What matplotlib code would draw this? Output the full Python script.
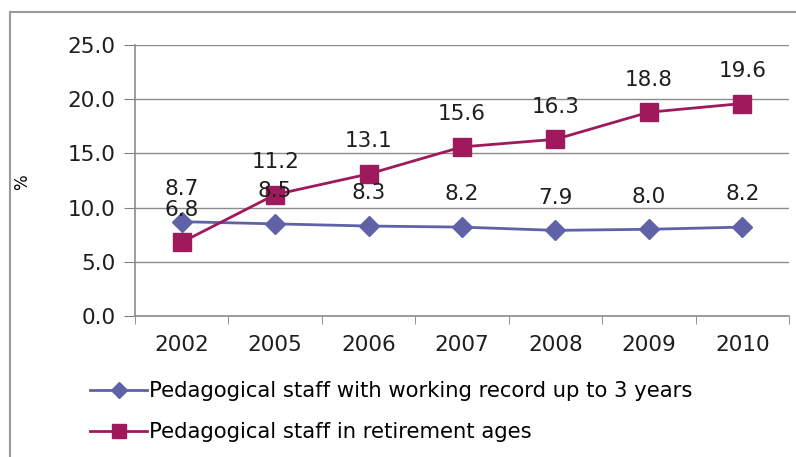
import numpy as np
import matplotlib.pyplot as plt
from matplotlib.patches import Rectangle

# data
years = ['2002', '2005', '2006', '2007', '2008', '2009', '2010']
young_staff = [8.7, 8.5, 8.3, 8.2, 7.9, 8.0, 8.2]
retired_staff = [6.8, 11.2, 13.1, 15.6, 16.3, 18.8, 19.6]
labels = ['Pedagogical staff with working record up to 3 years',
          'Pedagogical staff in retirement ages']

plt.rcParams['font.family'] = 'DejaVu Sans'

fig = plt.figure(figsize=(7.96, 4.57), dpi=100)
ax = fig.add_axes([135 / 796, 1 - 316 / 457, (789 - 135) / 796, (316 - 45) / 457])

# outer chart border
fig.patches.append(Rectangle((10 / 796, -0.1), 1.2, 1 - 12 / 457 + 0.1,
                             transform=fig.transFigure, fill=False,
                             edgecolor='#9a9a9a', linewidth=1.5))

x = np.arange(len(years))
blue = '#6062a8'
red = '#9e1a5c'
l1, = ax.plot(x, young_staff, color=blue, lw=2, marker='D', ms=10, label=labels[0])
l2, = ax.plot(x, retired_staff, color=red, lw=2, marker='s', ms=13, label=labels[1])

for series in (young_staff, retired_staff):
    for xi, v in zip(x, series):
        ax.annotate(f'{v:.1f}', (xi, v), xytext=(0, 23.5), textcoords='offset points',
                    ha='center', va='center', fontsize=15.5, color='#1e1e1e')

ax.set_xlim(-0.5, len(years) - 0.5)
ax.set_ylim(0, 25)
ax.set_yticks(np.arange(0, 25.1, 5))
ax.set_yticklabels([f'{v:.1f}' for v in np.arange(0, 25.1, 5)])
ax.set_xticks(x)
ax.set_xticklabels(years)
ax.set_xticks(np.arange(-0.5, len(years)), minor=True)
ax.tick_params(axis='x', which='major', length=0, pad=14, labelsize=15.5, labelcolor='#1e1e1e')
ax.tick_params(axis='x', which='minor', length=6, color='#808080', direction='out')
ax.tick_params(axis='y', length=8, color='#808080', pad=6, labelsize=15.5, labelcolor='#1e1e1e')
ax.grid(axis='y', color='#8c8c8c', lw=1)
ax.set_axisbelow(True)
for s in ['top', 'right']:
    ax.spines[s].set_visible(False)
for s in ['left', 'bottom']:
    ax.spines[s].set_color('#8c8c8c')
    ax.spines[s].set_linewidth(1.2)

fig.text(22 / 796, 1 - 182 / 457, '%', rotation=90, ha='center', va='center', fontsize=12)

fig.legend(handles=[l1, l2], loc='upper left', bbox_to_anchor=(90 / 796, 1 - 381 / 457),
           frameon=False, fontsize=15.2, handlelength=2.7, handletextpad=0.1,
           labelspacing=1.0, borderaxespad=0, borderpad=0, markerscale=0.8)

fig.savefig('out.png', dpi=100)
